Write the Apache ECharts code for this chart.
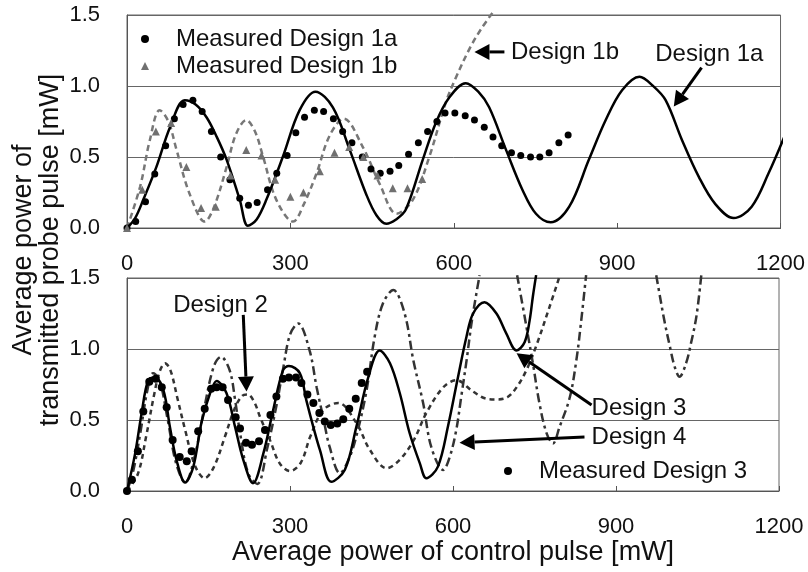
<!DOCTYPE html>
<html><head><meta charset="utf-8">
<script src="https://cdn.jsdelivr.net/npm/echarts@6/dist/echarts.min.js"></script>
<style>html,body{margin:0;padding:0;background:#fff}#c{width:808px;height:572px}</style>
</head><body><div id="c"></div>
<script>
// ---------- data ----------
const xTicks = [0, 300, 600, 900, 1200];
const yTicks = [0, 0.5, 1.0, 1.5];

// Top panel
const design1aX = [0,15,30,54,79,106,126,146,165,183,207,222,238,256,286,317,346,378,409,439,458,476,494,512,543,567,592,622,645,665,696,726,751,778,812,848,879,909,941,966,989,1019,1050,1080,1114,1147,1178,1210];
const design1aY = [0,0.07,0.2,0.43,0.71,0.90,0.87,0.78,0.64,0.48,0.2,0.015,0.06,0.2,0.50,0.83,0.96,0.85,0.55,0.24,0.09,0.03,0.06,0.13,0.48,0.74,0.92,1.02,0.96,0.85,0.55,0.27,0.10,0.04,0.15,0.48,0.76,0.97,1.065,1.0,0.90,0.62,0.36,0.17,0.07,0.15,0.385,0.67];
const design1bX = [0,24,42,60,76,91,115,143,160,183,200,219,235,250,274,305,325,348,372,398,433,464,495,525,555,585,604,630,650,672];
const design1bY = [0,0.29,0.62,0.83,0.75,0.55,0.24,0.045,0.15,0.43,0.66,0.76,0.68,0.50,0.2,0.045,0.17,0.385,0.65,0.77,0.57,0.31,0.10,0.2,0.5,0.88,1.06,1.27,1.40,1.52];
const meas1aX = [0,16,34,51,71,87,103,121,138,155,172,189,207,223,239,258,275,294,310,326,344,361,379,396,413,432,448,465,483,499,517,535,552,569,584,602,621,638,656,672,688,706,723,741,758,775,793,810];
const meas1aY = [0,0.045,0.185,0.38,0.58,0.77,0.87,0.90,0.82,0.68,0.50,0.34,0.21,0.16,0.18,0.27,0.385,0.51,0.67,0.78,0.83,0.82,0.77,0.68,0.60,0.50,0.415,0.385,0.40,0.44,0.52,0.60,0.68,0.75,0.81,0.81,0.79,0.76,0.71,0.64,0.58,0.53,0.51,0.50,0.50,0.53,0.60,0.655];
const meas1bX = [0,28,53,81,109,136,163,190,219,247,272,300,324,354,381,408,434,460,488,515,542];
const meas1bY = [0,0.27,0.68,0.74,0.43,0.14,0.15,0.37,0.55,0.51,0.34,0.22,0.25,0.40,0.53,0.57,0.50,0.37,0.28,0.28,0.345];

// Bottom panel
const design3X = [0,15,27,39,51,67,79,91,107,122,137,153,165,183,199,214,232,251,269,287,298,318,330,343,355,376,401,422,444,465,484,502,520,539,551,572,591,608,625,637,658,680,698,717,732,741,747,753];
const design3Y = [0,0.265,0.55,0.78,0.80,0.71,0.45,0.22,0.06,0.17,0.48,0.69,0.775,0.69,0.45,0.22,0.055,0.265,0.57,0.85,0.88,0.83,0.64,0.45,0.29,0.065,0.15,0.45,0.80,0.99,0.90,0.69,0.41,0.195,0.09,0.17,0.46,0.78,1.09,1.25,1.33,1.25,1.11,0.99,1.05,1.20,1.37,1.52];
const design2X = [0,20,35,50,60,70,80,93,107,125,143,160,180,198,212,222,235,245,263,281,300,320,337,361,389,422,447,478,502,528,551,582,606,637,661,680,700,717,735,753,778,796];
const design2Y = [0,0.12,0.38,0.68,0.84,0.90,0.85,0.65,0.43,0.18,0.09,0.17,0.38,0.58,0.67,0.68,0.62,0.52,0.36,0.195,0.14,0.2,0.38,0.57,0.62,0.48,0.29,0.16,0.22,0.36,0.55,0.73,0.78,0.70,0.65,0.645,0.66,0.73,0.85,1.02,1.30,1.51];
const design4X = [0,12,25,37,48,60,75,90,107,125,143,160,173,189,199,208,223,240,258,275,288,300,315,336,349,361,373,392,410,425,441,456,471,490,511,527,545,560,582,594,606,615,625,634,643,649,680,718,735,747,759,772,784,796,815,827,836,845,900,974,980,989,999,1008,1017,1029,1038,1048,1057];
const design4Y = [0,0.15,0.42,0.7,0.83,0.78,0.5,0.2,0.06,0.25,0.6,0.88,0.945,0.85,0.64,0.41,0.125,0.05,0.3,0.6,0.875,1.1,1.18,0.99,0.73,0.52,0.31,0.125,0.24,0.43,0.71,1.09,1.32,1.415,1.25,0.92,0.62,0.31,0.148,0.24,0.43,0.66,0.92,1.18,1.39,1.52,null,1.52,1.16,0.90,0.62,0.41,0.335,0.45,0.66,0.92,1.20,1.52,null,1.52,1.39,1.20,1.02,0.875,0.805,0.90,1.04,1.23,1.52];
const meas3X = [0,9,20,30,41,53,64,73,84,97,110,119,131,143,155,165,176,186,200,208,219,230,243,254,264,275,287,298,311,321,332,343,354,364,375,387,398,409,421,432,442];
const meas3Y = [0,0.08,0.28,0.56,0.77,0.79,0.73,0.59,0.36,0.24,0.21,0.28,0.42,0.58,0.72,0.73,0.73,0.64,0.52,0.44,0.34,0.325,0.35,0.43,0.535,0.665,0.79,0.80,0.80,0.76,0.68,0.62,0.55,0.49,0.465,0.475,0.505,0.58,0.65,0.76,0.84];

// Annotations: label, grid, text position, arrow start, arrow tip (data units)
const annoLabels = ['Design 1b', 'Design 1a', 'Design 2', 'Design 3', 'Design 4'];
const annoGrid = [0, 0, 1, 1, 1];
const annoText = [[705,1.24],[970,1.22],[85,1.31],[855,0.585],[855,0.375]];
const annoFrom = [[693,1.24],[1055,1.13],[214,1.24],[855,0.605],[842,0.38]];
const annoTo = [[638,1.24],[1004,0.855],[220,0.70],[717,0.97],[612,0.34]];

// ---------- chart ----------
const FONT = '"Liberation Sans", Arial, sans-serif';
const zip = (xs, ys) => xs.map((x, i) => [x, ys[i]]);
const chart = echarts.init(document.getElementById('c'), null, {renderer: 'canvas'});

function xAxisCfg(gi) {
  return {
    gridIndex: gi, type: 'value', min: xTicks[0], max: xTicks[xTicks.length - 1],
    interval: xTicks[1] - xTicks[0],
    axisLine: {show: true, onZero: false, lineStyle: {color: '#555', width: 1}},
    axisTick: {show: true, inside: true, length: 5, lineStyle: {color: '#555'}},
    axisLabel: {fontSize: 22, color: '#111', margin: 25, fontFamily: FONT, formatter: v => String(v)},
    splitLine: {show: false},
    name: gi === 1 ? 'Average power of control pulse [mW]' : '',
    nameLocation: 'middle', nameGap: 46,
    nameTextStyle: {fontSize: 27, color: '#111', fontFamily: FONT}
  };
}
function yAxisCfg(gi) {
  return {
    gridIndex: gi, type: 'value', min: yTicks[0], max: yTicks[yTicks.length - 1],
    interval: yTicks[1] - yTicks[0],
    axisLine: {show: true, lineStyle: {color: '#555'}},
    axisTick: {show: false},
    axisLabel: {fontSize: 22, color: '#111', margin: 27, fontFamily: FONT,
                formatter: v => v.toFixed(1)},
    splitLine: {show: true, lineStyle: {color: '#666', width: 1}}
  };
}
function lineSeries(name, gi, xs, ys, color, type, width) {
  return {
    name, type: 'line', xAxisIndex: gi, yAxisIndex: gi, data: zip(xs, ys),
    showSymbol: false, smooth: 0.35, clip: false, connectNulls: false,
    lineStyle: {color, width, type}, z: 2, silent: true
  };
}
function scatterSeries(name, gi, xs, ys, symbol, size, color) {
  return {
    name, type: 'scatter', xAxisIndex: gi, yAxisIndex: gi, data: zip(xs, ys),
    symbol, symbolSize: size, itemStyle: {color, opacity: 1}, z: 4, silent: true
  };
}

const option = {
  backgroundColor: '#fff',
  animation: false,
  textStyle: {fontFamily: FONT},
  grid: [
    {left: 127, top: 15, width: 655, height: 213, show: true, borderColor: '#666', borderWidth: 1, backgroundColor: 'transparent'},
    {left: 127, top: 278, width: 652, height: 213, show: true, borderColor: '#666', borderWidth: 1, backgroundColor: 'transparent'}
  ],
  xAxis: [xAxisCfg(0), xAxisCfg(1)],
  yAxis: [yAxisCfg(0), yAxisCfg(1)],
  legend: [
    {data: ['Measured Design 1a', 'Measured Design 1b'], orient: 'vertical', left: 136, top: 22,
     itemWidth: 8, itemHeight: 8, itemGap: 3, selectedMode: false,
     textStyle: {fontSize: 24, color: '#111', fontFamily: FONT, padding: [0, 0, 0, 22]}},
    {data: ['Measured Design 3'], orient: 'vertical', left: 499, top: 454,
     itemWidth: 8, itemHeight: 8, selectedMode: false,
     textStyle: {fontSize: 24, color: '#111', fontFamily: FONT, padding: [0, 0, 0, 22]}}
  ],
  series: [
    lineSeries('Design 1b', 0, design1bX, design1bY, '#777', [6, 4], 2.5),
    lineSeries('Design 1a', 0, design1aX, design1aY, '#000', 'solid', 2.5),
    scatterSeries('Measured Design 1a', 0, meas1aX, meas1aY, 'circle', 7, '#000'),
    scatterSeries('Measured Design 1b', 0, meas1bX, meas1bY, 'triangle', 8, '#707070'),
    lineSeries('Design 2', 1, design2X, design2Y, '#333', [5, 4], 2.5),
    lineSeries('Design 4', 1, design4X, design4Y, '#333', [9, 4, 3, 4], 2.5),
    lineSeries('Design 3', 1, design3X, design3Y, '#000', 'solid', 2.5),
    scatterSeries('Measured Design 3', 1, meas3X, meas3Y, 'circle', 8, '#000')
  ]
};
chart.setOption(option);

// annotations (arrows + labels) positioned from data coordinates
const graphics = [];
annoLabels.forEach((label, i) => {
  const gi = annoGrid[i];
  const t = chart.convertToPixel({gridIndex: gi}, annoText[i]);
  const a = chart.convertToPixel({gridIndex: gi}, annoFrom[i]);
  const b = chart.convertToPixel({gridIndex: gi}, annoTo[i]);
  graphics.push({type: 'text', x: t[0], y: t[1], z: 10,
    style: {text: label, font: '24px ' + FONT, fill: '#111', align: 'left', verticalAlign: 'middle'}});
  const dx = b[0] - a[0], dy = b[1] - a[1];
  const L = Math.sqrt(dx * dx + dy * dy), ux = dx / L, uy = dy / L;
  const headL = 15, headW = 8;
  const bx = b[0] - ux * headL, by = b[1] - uy * headL;
  graphics.push({type: 'line', z: 10, shape: {x1: a[0], y1: a[1], x2: bx, y2: by},
    style: {stroke: '#000', lineWidth: 3}});
  graphics.push({type: 'polygon', z: 10, shape: {points: [[b[0], b[1]],
    [bx - uy * headW, by + ux * headW], [bx + uy * headW, by - ux * headW]]},
    style: {fill: '#000'}});
});
graphics.push({type: 'text', x: 37, y: 250, rotation: Math.PI / 2, z: 10,
  style: {text: 'Average power of\ntransmitted probe pulse [mW]', font: '27px ' + FONT,
          fill: '#111', align: 'center', verticalAlign: 'middle', lineHeight: 27}});
chart.setOption({graphic: graphics});
</script>
</body></html>
